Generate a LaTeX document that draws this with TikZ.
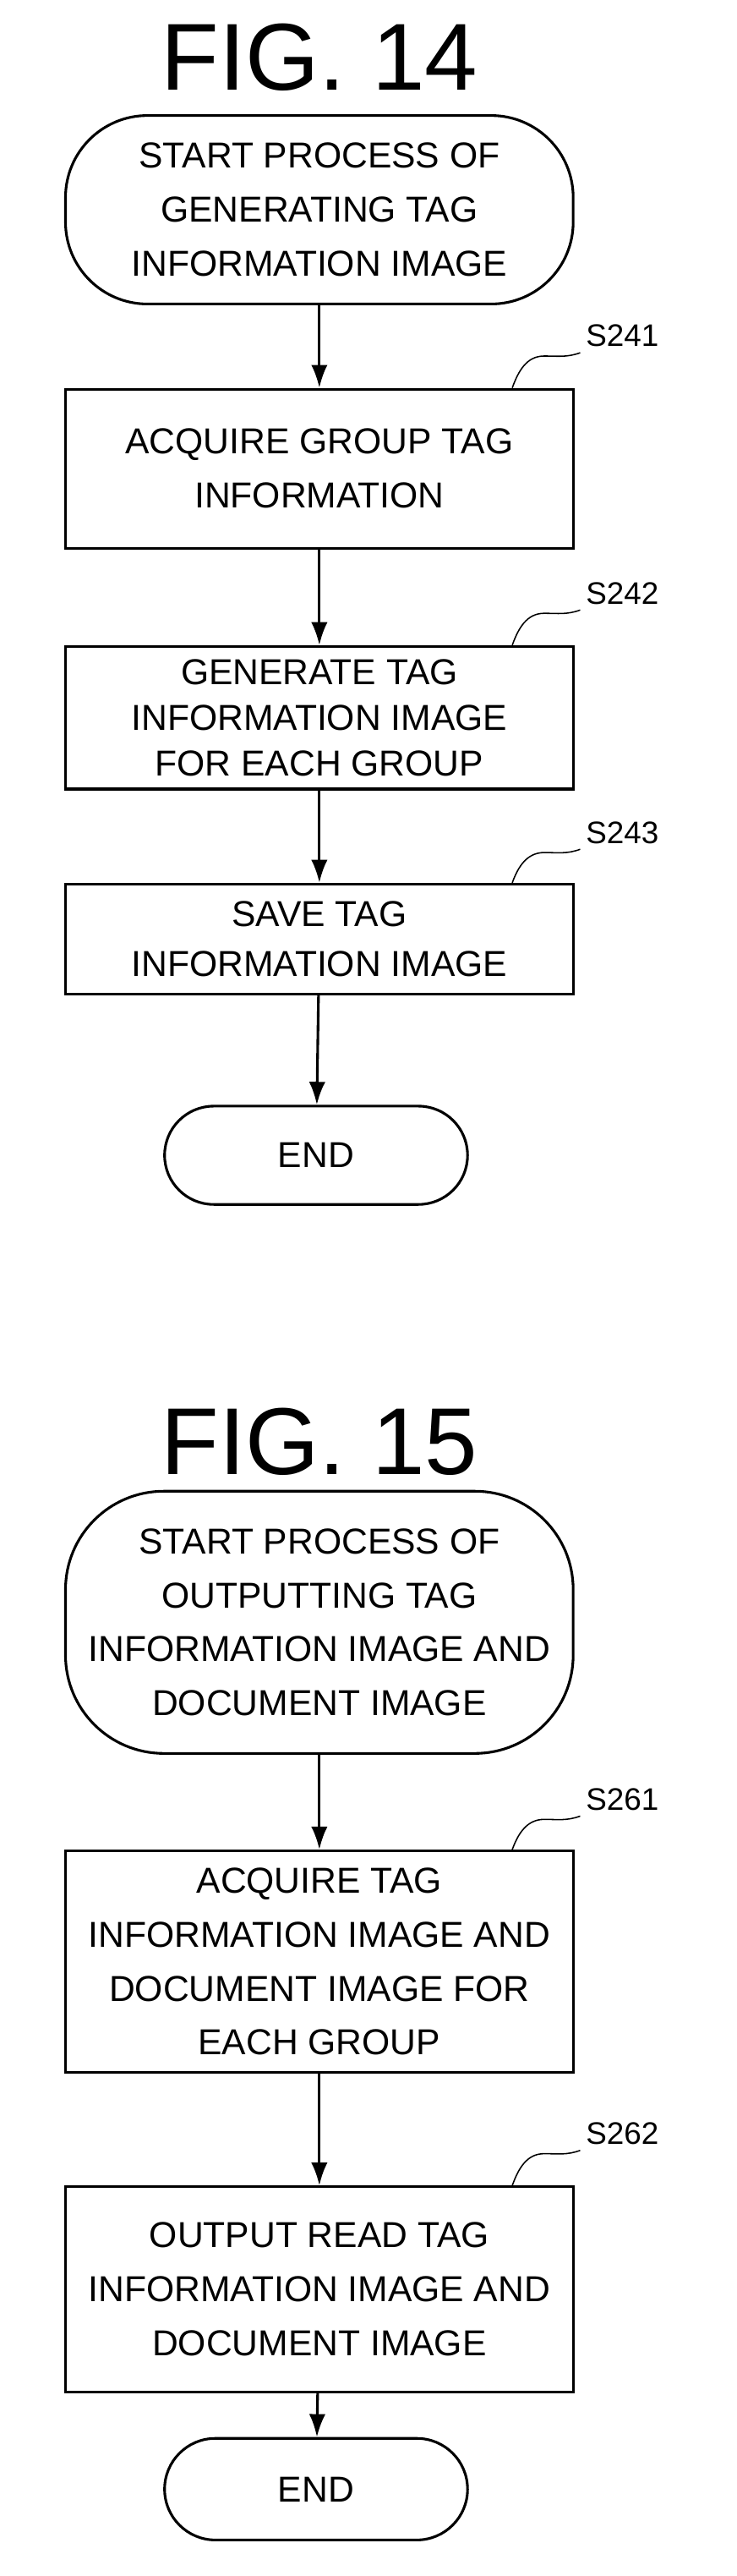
\documentclass[tikz,border=0pt]{standalone}
\usepackage{fontspec}
\setmainfont{Liberation Sans}
\usetikzlibrary{calc,arrows.meta}
\tikzset{
  box/.style={draw, line width=1.6pt, minimum width=310pt, align=center, font=\fontsize{22}{33}\selectfont, inner sep=2pt},
  term/.style={box, rounded corners=#1},
  term/.default=50pt,
  fig/.style={font=\fontsize{58}{60}\selectfont},
  steplabel/.style={font=\fontsize{19}{20}\selectfont},
  flow/.style={line width=1.6pt, -{Latex[length=14pt,width=10pt]}},
  lead/.style={line width=0.8pt}
}
\begin{document}
\begin{tikzpicture}[x=1pt, y=1pt]
\useasboundingbox (0,0) rectangle (450,-1572);
% FIG. 14
\node[fig] (title14) at (195,-35) {FIG. 14};
\node[term, minimum height=115pt] (start1) at (195,-128) {START PROCESS OF\\GENERATING TAG\\INFORMATION IMAGE};
\node[box, minimum height=97pt] (b241) at (195,-286) {ACQUIRE GROUP TAG\\INFORMATION};
\node[box, minimum height=87pt, font=\fontsize{22}{28}\selectfont] (b242) at (195,-438) {GENERATE TAG\\INFORMATION IMAGE\\FOR EACH GROUP};
\node[box, minimum height=67pt, font=\fontsize{22}{30}\selectfont] (b243) at (195,-573) {SAVE TAG\\INFORMATION IMAGE};
\node[term=30pt, minimum width=185pt, minimum height=60pt] (end1) at (193,-705) {END};
\draw[flow] (start1) -- (b241);
\draw[flow] (b241) -- (b242);
\draw[flow] (b242) -- (b243);
\draw[flow] (b243) -- (end1);
\node[steplabel] (s241) at (380,-205) {S241};
\node[steplabel] (s242) at (380,-362) {S242};
\node[steplabel] (s243) at (380,-508) {S243};
\foreach \b/\s in {b241/s241, b242/s242, b243/s243}
  \draw[lead] ($(\b.north east)+(-38,0)$) to[out=70,in=180] ($(\s.south west)+(-22,-2)$) to[out=0,in=200] (\s.south west);
% FIG. 15
\node[fig] (title15) at (195,-880) {FIG. 15};
\node[term=60pt, minimum height=160pt] (start2) at (195,-990) {START PROCESS OF\\OUTPUTTING TAG\\INFORMATION IMAGE AND\\DOCUMENT IMAGE};
\node[box, minimum height=135pt] (b261) at (195,-1197) {ACQUIRE TAG\\INFORMATION IMAGE AND\\DOCUMENT IMAGE FOR\\EACH GROUP};
\node[box, minimum height=125pt] (b262) at (195,-1397) {OUTPUT READ TAG\\INFORMATION IMAGE AND\\DOCUMENT IMAGE};
\node[term=31pt, minimum width=185pt, minimum height=62pt] (end2) at (193,-1519) {END};
\draw[flow] (start2) -- (b261);
\draw[flow] (b261) -- (b262);
\draw[flow] (b262) -- (end2);
\node[steplabel] (s261) at (380,-1098) {S261};
\node[steplabel] (s262) at (380,-1302) {S262};
\foreach \b/\s in {b261/s261, b262/s262}
  \draw[lead] ($(\b.north east)+(-38,0)$) to[out=70,in=180] ($(\s.south west)+(-22,-2)$) to[out=0,in=200] (\s.south west);
\end{tikzpicture}
\end{document}
